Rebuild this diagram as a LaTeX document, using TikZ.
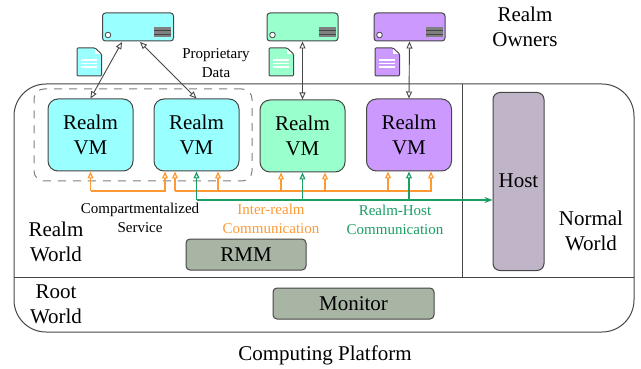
\documentclass[tikz,border=0pt]{standalone}
\usepackage{fontspec}
\setmainfont{Liberation Serif}
\usetikzlibrary{arrows.meta}
\definecolor{mcyan}{RGB}{153, 255, 255}
\definecolor{mgreen}{RGB}{153, 255, 204}
\definecolor{mpurple}{RGB}{204, 153, 255}
\definecolor{mhost}{RGB}{192, 180, 200}
\definecolor{mfirm}{RGB}{168, 181, 165}
\definecolor{mline}{RGB}{70, 70, 70}
\definecolor{morange}{RGB}{255, 153, 51}
\definecolor{mteal}{RGB}{26, 158, 100}
\tikzset{bigtext/.style = {inner sep = 0, align = center, font = \fontsize{21}{25}\selectfont}}
\tikzset{smalltext/.style = {inner sep = 0, align = center, font = \fontsize{15}{19}\selectfont}}
\tikzset{vmbox/.style = {draw = mline, line width = 1, rounded corners = 10, minimum width = 85, minimum height = 72, inner sep = 0, align = center, font = \fontsize{21}{25}\selectfont}}
\tikzset{firmbox/.style = {draw = mline, line width = 1, rounded corners = 4, fill = mfirm, inner sep = 0, font = \fontsize{21}{25}\selectfont}}
\tikzset{serverbox/.style = {draw = mline, line width = 1, rounded corners = 3, minimum width = 71, minimum height = 28, inner sep = 0}}
\tikzset{ownerline/.style = {mline, line width = 0.9, {Triangle[open, length = 7, width = 6]}-{Triangle[open, length = 7, width = 6]}}}
\tikzset{orangeline/.style = {morange, line width = 1.2, -{Triangle[open, length = 7, width = 6]}}}
\tikzset{tealline/.style = {mteal, line width = 1.2, -{Triangle[open, length = 7, width = 6]}}}
\begin{document}
\begin{tikzpicture}[x=1pt, y=-1pt]
      \useasboundingbox (0, 0) rectangle (641, 369);

      % platform outline
      \draw [mline, line width = 1, rounded corners = 32] (14, 84) rectangle (634, 332);
      \coordinate (splitl) at (14, 277);
      \coordinate (splitr) at (634, 277);
      \coordinate (normt) at (462, 84);
      \coordinate (normb) at (462, 277);
      \draw [mline, line width = 1] (splitl) -- (splitr);
      \draw [mline, line width = 1] (normt) -- (normb);
      \node (trust) [draw = gray, line width = 1, dash pattern = on 8 off 7, rounded corners = 10, minimum width = 218, minimum height = 92] at (143, 135) {};

      % realm vms
      \node (vma) [vmbox, fill = mcyan] at (90.5, 135) {Realm\\VM};
      \node (vmb) [vmbox, fill = mcyan] at (196.5, 135) {Realm\\VM};
      \node (vmc) [vmbox, fill = mgreen] at (302.5, 136) {Realm\\VM};
      \node (vmd) [vmbox, fill = mpurple] at (409, 135) {Realm\\VM};

      \node (host) [firmbox, rounded corners = 7, fill = mhost, minimum width = 51, minimum height = 178, anchor = north] at (518.5, 92) {};
      \node (hostlabel) [bigtext] at (518.5, 181) {Host};
      \node (rmm) [firmbox, minimum width = 120, minimum height = 31] at (246, 254.5) {RMM};
      \node (monitor) [firmbox, minimum width = 161, minimum height = 31] at (353.5, 303.5) {Monitor};

      % owners
      \foreach \nm/\cx/\col in {srva/138/mcyan, srvb/302.5/mgreen, srvd/409.5/mpurple} {
        \node (\nm) [serverbox, fill = \col] at (\cx, 27) {};
        \draw [mline, fill = white, line width = 0.8] (\nm.south west) ++(6, -6.5) circle [radius = 2.8];
        \fill [gray] (\nm.south east) ++(-20, -14.5) rectangle ++(17, 10);
        \draw [mline, line width = 0.7] (\nm.south east) ++(-20, -11) -- ++(17, 0);
        \draw [mline, line width = 0.7] (\nm.south east) ++(-20, -7.5) -- ++(17, 0);
      }
      \foreach \dx/\col in {77/mcyan, 269/mgreen, 375/mpurple} {
        \draw [mline, line width = 1, fill = \col, rounded corners = 1] (\dx, 48) -- (\dx + 18, 48) -- (\dx + 24.5, 54) -- (\dx + 24.5, 76) -- (\dx, 76) -- cycle;
        \fill [white] (\dx + 18, 49) -- (\dx + 23.5, 54) -- (\dx + 18, 54) -- cycle;
        \foreach \ly in {60, 63.5, 67} {
          \draw [white, line width = 1.2] (\dx + 4, \ly) -- (\dx + 20, \ly);
        }
      }

      \coordinate (ownerl) at (122, 42);
      \coordinate (ownerr) at (140, 42);
      \draw [ownerline] (vma.north) -- (ownerl);
      \draw [ownerline] (vmb.north) -- (ownerr);
      \draw [ownerline] (vmc.north) -- (srvb.south);
      \draw [ownerline] (vmd.north) -- (srvd.south);

      % inter-realm bus
      \coordinate (aup) at (165, 171.5);
      \coordinate (abus) at (165, 191);
      \coordinate (bup) at (175, 171.5);
      \coordinate (bbus) at (175, 191);
      \coordinate (cup) at (218, 171.5);
      \coordinate (cbus) at (218, 191);
      \coordinate (dup) at (281, 172.5);
      \coordinate (dbus) at (281, 191);
      \coordinate (eup) at (325, 172.5);
      \coordinate (ebus) at (325, 191);
      \coordinate (fup) at (388, 171.5);
      \coordinate (fbus) at (388, 191);
      \coordinate (gup) at (431, 171.5);
      \coordinate (gbus) at (431, 191);
      \draw [orangeline] (vma.south |- abus) -- (vma.south);
      \draw [orangeline] (vma.south |- abus) -- (abus) -- (aup);
      \draw [orangeline] (bbus) -- (bup);
      \draw [orangeline] (bbus) -- (gbus) -- (gup);
      \foreach \nm in {c, d, e, f} {
        \draw [orangeline] (\nm bus) -- (\nm up);
      }

      % realm-host bus
      \coordinate (tealb) at (196.5, 200);
      \draw [tealline] (tealb) -- (vmb.south);
      \draw [tealline, line width = 1.5, -{Stealth[length = 8, width = 6]}] (tealb) -- (tealb -| host.west);
      \draw [tealline] (tealb -| vmc.south) -- (vmc.south);
      \draw [tealline] (tealb -| vmd.south) -- (vmd.south);

      % labels
      \node (ownerlabel) [bigtext] at (525, 27) {Realm\\Owners};
      \node (datalabel) [smalltext] at (216, 63) {Proprietary\\Data};
      \node (realmlabel) [bigtext] at (56, 242) {Realm\\World};
      \node (rootlabel) [bigtext] at (56, 304) {Root\\World};
      \node (normallabel) [bigtext] at (591, 231) {Normal\\World};
      \node (servicelabel) [smalltext] at (140, 218) {Compartmentalized\\Service};
      \node (interlabel) [smalltext, text = morange] at (271, 219) {Inter-realm\\Communication};
      \node (hostcomlabel) [smalltext, text = mteal] at (395, 220) {Realm-Host\\Communication};
      \node (platformlabel) [bigtext] at (325, 355) {Computing Platform};
    \end{tikzpicture}
\end{document}
